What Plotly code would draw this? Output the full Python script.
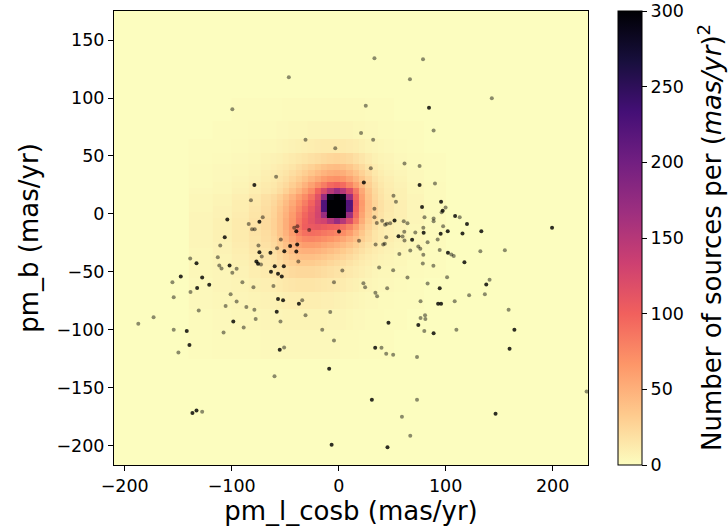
import plotly.graph_objects as go

# ---- density map: bin edges (mas/yr) and source density per bin ----
x_edges = [-140, -118, -100, -84, -73, -63.8, -57.9, -52.0, -46.1, -40.2, -34.3,
           -28.4, -22.5, -16.6, -10.7, -4.8, 1.1, 7.0, 12.9, 18.8, 24.7, 30.6,
           36.5, 42.4, 52, 64, 80, 100]
y_edges = [-125, -100, -82, -67, -55, -44.8, -39.6, -34.4, -29.2, -24.0, -18.8,
           -13.6, -8.4, -3.2, 2.0, 7.2, 12.4, 17.5, 22.7, 27.9, 33.1, 38.3, 43.5,
           53, 65, 80, 100]

# rows listed from the top (pm_b = 100) down to the bottom (pm_b = -125)
density_rows_top_down = [
    [0, 0, 1, 1, 1, 1, 1, 2, 2, 2, 2, 2, 2, 2, 2, 2, 2, 2, 2, 2, 1, 1, 1, 1, 0, 0, 0],
    [0, 1, 1, 2, 2, 2, 3, 3, 4, 4, 4, 5, 5, 5, 5, 5, 5, 5, 4, 4, 3, 3, 2, 2, 1, 1, 0],
    [1, 1, 2, 3, 4, 4, 5, 6, 7, 8, 9, 10, 11, 12, 12, 12, 12, 11, 10, 8, 6, 5, 4, 3, 2, 1, 0],
    [1, 2, 3, 4, 6, 7, 8, 10, 12, 14, 16, 18, 20, 23, 25, 26, 25, 23, 19, 15, 11, 8, 6, 5, 3, 2, 1],
    [2, 3, 4, 5, 7, 9, 11, 13, 16, 20, 24, 28, 33, 38, 41, 42, 40, 35, 29, 22, 16, 11, 8, 6, 4, 2, 1],
    [2, 3, 4, 6, 9, 11, 13, 16, 20, 25, 30, 36, 42, 48, 52, 54, 51, 45, 37, 28, 20, 14, 10, 7, 5, 3, 1],
    [2, 3, 5, 7, 10, 12, 15, 19, 25, 31, 38, 46, 54, 62, 68, 70, 66, 58, 47, 36, 26, 17, 12, 9, 6, 3, 1],
    [2, 4, 6, 9, 12, 14, 18, 23, 30, 38, 48, 59, 71, 82, 95, 100, 93, 78, 60, 44, 30, 20, 14, 10, 7, 4, 2],
    [3, 4, 7, 10, 13, 16, 21, 28, 37, 47, 59, 73, 98, 122, 148, 170, 150, 122, 85, 55, 35, 23, 16, 11, 8, 4, 2],
    [4, 6, 9, 13, 18, 22, 29, 38, 48, 60, 73, 88, 115, 172, 290, 320, 290, 170, 98, 60, 38, 25, 17, 12, 8, 5, 2],
    [4, 6, 10, 14, 19, 24, 32, 42, 54, 68, 82, 98, 122, 225, 340, 360, 340, 222, 103, 64, 40, 26, 18, 13, 9, 5, 2],
    [4, 7, 10, 15, 20, 26, 35, 46, 59, 74, 90, 106, 126, 225, 340, 360, 340, 220, 100, 62, 39, 26, 18, 13, 9, 5, 2],
    [5, 7, 11, 16, 21, 27, 37, 49, 63, 80, 96, 110, 128, 170, 300, 330, 300, 168, 94, 58, 37, 24, 17, 12, 9, 5, 2],
    [5, 8, 12, 17, 22, 28, 38, 51, 65, 84, 100, 112, 125, 130, 150, 172, 150, 120, 82, 52, 33, 22, 15, 11, 8, 5, 2],
    [5, 8, 12, 17, 22, 28, 38, 51, 66, 86, 102, 106, 108, 104, 100, 98, 90, 78, 60, 42, 28, 19, 13, 10, 7, 4, 2],
    [5, 8, 12, 17, 21, 27, 37, 49, 63, 80, 90, 92, 90, 86, 82, 78, 72, 62, 48, 35, 24, 16, 12, 9, 7, 4, 2],
    [5, 8, 12, 16, 20, 25, 34, 45, 57, 69, 76, 77, 75, 71, 67, 62, 56, 48, 39, 30, 22, 16, 12, 10, 7, 4, 2],
    [5, 7, 11, 15, 18, 23, 31, 40, 50, 58, 62, 62, 60, 56, 52, 48, 43, 37, 30, 23, 17, 13, 10, 8, 6, 4, 2],
    [4, 7, 10, 14, 16, 20, 27, 35, 42, 48, 50, 50, 48, 45, 41, 37, 33, 28, 23, 18, 14, 11, 9, 7, 5, 3, 1],
    [4, 6, 9, 12, 15, 18, 24, 30, 35, 39, 40, 40, 38, 35, 32, 29, 26, 22, 18, 14, 11, 9, 7, 6, 4, 3, 1],
    [4, 6, 8, 11, 13, 16, 21, 26, 29, 32, 32, 32, 30, 28, 25, 22, 20, 17, 14, 11, 9, 7, 6, 5, 4, 2, 1],
    [4, 5, 7, 10, 12, 14, 17, 20, 23, 24, 24, 24, 23, 21, 19, 17, 15, 13, 11, 9, 7, 5, 4, 4, 3, 2, 1],
    [3, 5, 6, 8, 9, 10, 12, 14, 15, 16, 16, 16, 15, 14, 13, 12, 11, 9, 8, 6, 5, 4, 3, 3, 2, 1, 0],
    [3, 4, 5, 6, 7, 7, 8, 9, 10, 10, 10, 10, 10, 9, 9, 8, 7, 6, 5, 4, 3, 3, 2, 2, 1, 1, 0],
    [2, 3, 4, 4, 5, 5, 5, 6, 6, 6, 6, 6, 6, 6, 5, 5, 5, 4, 3, 3, 2, 2, 2, 1, 1, 0, 0],
    [1, 2, 2, 2, 3, 3, 3, 3, 3, 3, 3, 3, 3, 3, 3, 3, 2, 2, 2, 1, 1, 1, 1, 1, 0, 0, 0],
]
density = density_rows_top_down[::-1]

# ---- individual sources (pm_l_cosb, pm_b) in mas/yr ----
bright_pml = [84.4, 23.5, -78.8, 75.6, 95.7, 77.9, 97.2, -74.1, 52.2, -39.6, 0.3,
              101.9, 55.9, 68.6, 79.4, 95.3, -45.4, -38.8, -50.8, -39.6, -74.1,
              -63.8, 102.1, -76.9, -75.4, -59.8, -51.3, -102.0, -63.3, -56.7, -53.2,
              -104.1, -106.5, -132.9, -147.6, -127.6, -132.3, -121.0, -56.7, -52.0,
              -37.2, -98.5, -57.9, -142.0, -139.5, -55.1, -8.9, -136.7, -132.9, -6.6,
              46.5, 74.4, 88.7, 164.2, 159.7, 34.1, 31.0, 45.6, 146.6, 199.4, 108.8,
              119.9, 133.3, 115.7, 117.5, 137.9, 94.4, 92.9, 95.7]
bright_pmb = [91.5, 27.1, 25.0, 25.0, 10.6, 6.0, 2.9, -6.7, -5.7, -14.9, -15.0,
              -14.8, -19.1, -22.2, -16.2, -17.0, -27.6, -26.3, -32.2, -32.3, -32.9,
              -33.4, -33.4, -41.0, -43.0, -45.0, -45.0, -44.4, -49.8, -51.6, -53.9,
              -4.7, -20.1, -42.4, -53.9, -54.8, -63.7, -61.1, -73.2, -74.4,
              -77.3, -92.6, -84.2, -100.9, -113.0, -117.0, -133.4, -171.5, -169.5, -199.0,
              -93.7, -95.7, -102.9, -99.7, -116.2, -115.3, -160.2, -201.1, -172.3, -11.8, -1.8,
              -8.7, -14.8, -16.9, -41.6, -60.8, -64.0, -77.3, -77.3]

faint_pml = [33.4, 78.8, -46.6, 66.6, 143.1, -99.4, 25.3, 88.7, 20.9, -31.0, 32.2,
             -3.2, 61.5, 75.6, 30.0, -58.5, 90.0, 51.2, 53.5, -82.0, 33.4, 96.2,
             99.9, 80.2, 33.4, 88.7, 88.7, -71.0, 40.6, 60.8, 64.3, 35.6, 43.4, 45.0,
             48.1, -9.4, -84.1, -81.0, -78.5, -41.6, -38.6, -27.6, 79.1, 97.6, 61.3,
             59.7, 71.6, -54.1, 19.0, 92.5, -57.6, -71.9, 43.1, 41.6, 34.5, 74.4,
             76.3, 94.4, 105.3, 107.5, 56.7, 79.1, -72.6, -37.7, -95.4, 37.8, 50.9,
             88.5, 78.6, -99.4, 3.4, 64.3, 101.3, -110.7, -113.0, -75.0, -138.8,
             -111.6, -109.5, -155.4, -138.5, -90.0, -79.7, -61.0, -4.4, -101.0,
             -154.2, -105.7, -95.4, -86.3, -78.8, -34.1, -130.8, -173.0, -187.3,
             -77.6, -54.4, -31.0, -7.9, -154.2, -107.6, -88.8, -15.4, -4.4, -51.0,
             -149.8, -60.0, -127.6, 80.0, 110.0, 40.0, 44.4, 50.9, 73.2, 73.2, 59.1,
             66.9, 231.7, 113.1, 83.1, 44.4, 61.5, 66.9, 132.4, 155.3, 141.0, 136.6,
             121.9, 83.1, 23.1, 24.7, 45.3, 34.3, 35.9, 76.5, 108.4, 158.8, 80.7,
             81.0, 76.5]
faint_pmb = [134.2, 133.4, 117.8, 116.1, 99.7, 90.4, 93.3, 72.0, 69.9, 63.9, 63.9,
             56.7, 43.5, 41.4, 39.4, 32.2, 26.2, 15.8, 10.6, 11.8, 4.6, 1.4,
             5.7, -2.9, -2.9, -3.8, -6.3, -2.9, -5.8, -6.2, -7.9, -7.7, -9.2, -8.4,
             -7.9, -1.0, -8.7, -13.1, -13.1, -11.8, -10.5, -13.9, -11.8, -10.5, -15.3,
             -19.4, -15.9, -22.1, -23.1, -22.1, -29.5, -36.6, -25.7, -26.3, -26.3, -28.0,
             -30.0, -31.0, -34.9, -36.2, -34.5, -35.2, -43.6, -41.0, -47.3, -46.2, -48.5,
             -44.7, -42.7, -50.7, -48.7, -54.8, -54.6, -27.1, -37.3, -27.1, -38.4,
             -44.4, -47.0, -58.9, -67.2, -58.9, -63.2, -62.0, -58.9, -69.2,
             -71.8, -79.3, -75.5, -80.1, -82.5, -74.4, -83.3, -89.1, -94.6,
             -90.5, -92.6, -87.4, -84.4, -99.7, -102.1, -97.8, -99.7, -109.0, -115.0,
             -119.4, -139.8, -170.4, -100.9, -99.7, -115.3, -120.5, -121.3, -123.3, -160.2, -174.7,
             -191.1, -153.1, -2.9, -24.3, -20.0, -22.8, -31.5, -32.2, -31.2, -56.8, -69.2,
             -70.1, -60.0, -59.7, -63.2, -64.0, -68.0, -71.0, -75.3, -75.3, -82.5, -87.4,
             -90.5, -89.6]

x_ticks = [-200, -100, 0, 100, 200]
y_ticks = [-200, -150, -100, -50, 0, 50, 100, 150]
cbar_ticks = [0, 50, 100, 150, 200, 250, 300]

magma_r = ['#fcfdbf', '#feca8d', '#fd9668', '#f1605d', '#cd4071',
           '#9e2f7f', '#721f81', '#440f76', '#180f3d', '#000004']
colorscale = [[i / (len(magma_r) - 1), c] for i, c in enumerate(magma_r)]

FONT = "DejaVu Sans"

fig = go.Figure()
fig.add_trace(go.Heatmap(
    x=x_edges, y=y_edges, z=density,
    zmin=0, zmax=300, colorscale=colorscale, zsmooth=False,
    colorbar=dict(
        x=1.063, xanchor="left", xpad=0,
        y=0.5, yanchor="middle", ypad=0,
        len=1, lenmode="fraction",
        thickness=24, thicknessmode="pixels",
        outlinecolor="black", outlinewidth=1,
        ticks="outside", ticklen=5, tickwidth=1, tickcolor="black",
        tickvals=cbar_ticks,
        tickfont=dict(family=FONT, size=17.5, color="black"),
    ),
    hoverinfo="skip",
))

fig.add_trace(go.Scatter(
    x=faint_pml, y=faint_pmb, mode="markers",
    marker=dict(symbol="circle", size=4, color="rgba(0,0,0,0.45)", line=dict(width=0)),
    showlegend=False, hoverinfo="skip",
))
fig.add_trace(go.Scatter(
    x=bright_pml, y=bright_pmb, mode="markers",
    marker=dict(symbol="circle", size=4, color="rgba(0,0,0,0.82)", line=dict(width=0)),
    showlegend=False, hoverinfo="skip",
))

axis_common = dict(
    showgrid=False, zeroline=False,
    showline=True, mirror=True, linecolor="black", linewidth=1,
    ticks="outside", ticklen=5, tickwidth=1, tickcolor="black",
    tickfont=dict(family=FONT, size=17.5, color="black"),
)

fig.update_layout(
    width=728, height=532,
    margin=dict(l=114, r=140, t=11, b=67, autoexpand=False),
    paper_bgcolor="white",
    plot_bgcolor="#fcfdbf",
    font=dict(family=FONT, color="black"),
    xaxis=dict(range=[-210, 233], tickvals=x_ticks,
               title=dict(text="pm_l_cosb (mas/yr)", font=dict(family=FONT, size=26), standoff=4),
               **axis_common),
    yaxis=dict(range=[-216.4, 175], tickvals=y_ticks,
               title=dict(text="pm_b (mas/yr)", font=dict(family=FONT, size=26), standoff=10),
               **axis_common),
    annotations=[dict(
        text="Number of sources per (<i>mas/yr</i>)<sup>2</sup>",
        xref="paper", yref="paper", x=1.2574, y=0.5,
        xanchor="center", yanchor="middle", textangle=-90, showarrow=False,
        font=dict(family=FONT, size=26, color="black"),
    )],
)

fig.write_html("out.html")
